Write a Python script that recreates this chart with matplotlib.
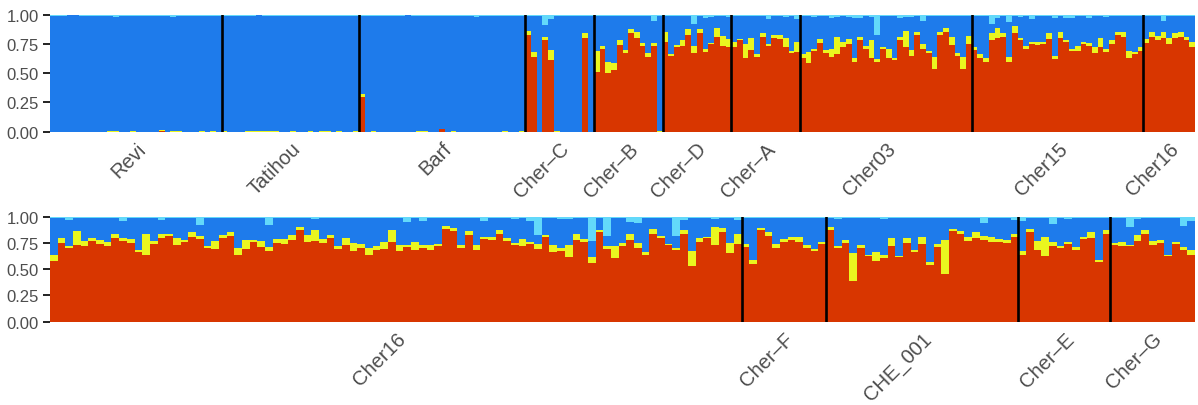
import numpy as np
import matplotlib
matplotlib.use("Agg")
import matplotlib.pyplot as plt

plt.rcParams['font.family'] = ['Liberation Sans', 'DejaVu Sans']

RED = "#d83600"
YELLOW = "#eaf61f"
BLUE = "#1e7beb"
LBLUE = "#63d9fa"

# === Top row ===
top_pops = ["Revi", "Tatihou", "Barf", "Cher\u2013C", "Cher\u2013B", "Cher\u2013D",
            "Cher\u2013A", "Cher03", "Cher15", "Cher16"]
top_sizes = [30, 24, 29, 12, 12, 12, 12, 30, 30, 9]

top_red = [
    # Revi
    0, 0, 0, 0, 0, 0, 0, 0, 0, 0, 0, 0, 0, 0, 0, 0, 0, 0, 0, .01, 0, 0, 0, 0, 0, 0, 0, 0, 0, 0,
    # Tatihou
    0, 0, 0, 0, 0, 0, 0, 0, 0, 0, 0, 0, 0, 0, 0, 0, 0, 0, 0, 0, 0, 0, 0, 0,
    # Barf
    .30, 0, 0, 0, 0, 0, 0, 0, 0, 0, 0, 0, 0, 0, .02, 0, 0, 0, 0, 0, 0, 0, 0, 0, 0, 0, 0, 0, 0,
    # Cher-C
    .83, .64, 0, .78, .61, 0, 0, 0, 0, 0, .80, 0,
    # Cher-B
    .51, .71, .50, .53, .74, .67, .84, .80, .73, .64, .73, 0,
    # Cher-D
    .77, .65, .72, .73, .83, .67, .84, .68, .75, .81, .73, .72,
    # Cher-A
    .72, .78, .63, .70, .64, .81, .73, .80, .79, .72, .67, .68,
    # Cher03
    .63, .59, .69, .76, .67, .64, .66, .72, .75, .60, .78, .71, .63, .60, .71,
    .63, .61, .78, .72, .65, .83, .71, .67, .54, .83, .85, .74, .65, .54, .75,
    # Cher15
    .70, .63, .60, .78, .80, .81, .60, .84, .78, .71, .75, .74, .75, .79, .62,
    .80, .77, .69, .69, .75, .73, .67, .72, .68, .75, .83, .81, .63, .66, .69,
    # Cher16
    .76, .81, .78, .80, .75, .80, .81, .78, .72,
]
top_yellow = [
    # Revi
    0, 0, 0, 0, 0, 0, 0, 0, 0, 0, .01, .01, 0, 0, .01, 0, 0, 0, 0, .005,
    0, .01, .01, 0, 0, 0, .01, 0, .01, 0,
    # Tatihou
    .01, 0, 0, 0, .01, .01, .01, .01, .01, .01, 0, 0, .01, 0, 0, .01, 0, .01, .01, 0, .01, 0, 0, .01,
    # Barf
    .02, 0, .01, 0, 0, 0, 0, 0, 0, 0, .01, .01, 0, 0, 0, 0, .01, 0, 0, 0, 0, 0, 0, 0, 0, .01, 0, 0, .01,
    # Cher-C
    .03, .04, 0, .03, .09, .01, 0, 0, 0, 0, .04, 0,
    # Cher-B
    .18, .02, .10, .06, .04, .03, .04, .05, .03, .03, .03, .01,
    # Cher-D
    .08, .01, .02, .05, .05, .06, .04, .03, .01, .08, .09, .07,
    # Cher-A
    .05, .01, .12, .10, .02, .03, .02, .03, .04, .08, .02, .09,
    # Cher03
    .03, .09, .02, .03, .03, .07, .15, .05, .04, .03, .03, .02, .15, .02, .01,
    .08, .02, .03, .14, .05, .02, .04, .02, .10, .02, .04, .07, .02, .10, .07,
    # Cher15
    .02, .03, .03, .06, .09, .03, .04, .06, .02, .02, .02, .03, .02, .05, .03,
    .05, .01, .02, .04, .02, .03, .05, .08, .03, .03, .02, .04, .06, .02, .03,
    # Cher16
    .03, .04, .04, .05, .05, .04, .04, .03, .05,
]
top_lblue = [
    # Revi
    .01, .01, .01, 0, 0, .01, .01, .01, .01, .01, .01, .02, .01, .01, .01, .01, .01, .01, .01, .01,
    .01, .02, .01, .01, .01, .01, .01, .01, .01, .01,
    # Tatihou
    .01, .01, .01, .01, .01, .01, 0, .01, .01, .01, .01, .01, .01, .01, .01, .01, .01, .01, .01, .01,
    .01, .01, .01, .01,
    # Barf
    .01, .01, .01, .01, .01, .01, .01, .01, 0, .01, .01, .01, .01, .01, .01, .01, .01, .01, .01, .01,
    .02, .01, .01, .01, .01, .01, .01, .01, .01,
    # Cher-C
    .01, .01, .01, .09, .04, .01, .01, .01, .01, .01, .01, .01,
    # Cher-B
    .01, .01, .01, .01, .01, .01, .01, .01, .01, .01, .05, .01,
    # Cher-D
    .01, .01, .01, .01, .01, .08, .01, .03, .02, .01, .01, .02,
    # Cher-A
    .01, .01, .01, .01, .01, .01, .04, .01, .01, .02, .01, .04,
    # Cher03
    .01, .01, .02, .01, .01, .03, .02, .01, .02, .03, .03, .01, .02, .17, .01,
    .01, .01, .03, .02, .02, .01, .05, .01, .01, .01, .01, .01, .01, .01, .01,
    # Cher15
    .01, .01, .01, .08, .03, .01, .06, .01, .02, .01, .04, .01, .01, .01, .03,
    .01, .03, .03, .01, .01, .03, .01, .01, .02, .01, .01, .01, .01, .01, .01,
    # Cher16
    .01, .01, .01, .05, .01, .01, .01, .01, .01,
]

# === Bottom row ===
bot_pops = ["Cher16", "Cher\u2013F", "CHE_001", "Cher\u2013E", "Cher\u2013G"]
bot_sizes = [90, 11, 25, 12, 11]

bot_red = [
    # Cher16
    .58, .75, .70, .73, .72, .77, .74, .72, .80, .77, .75, .66, .64, .74, .80, .82, .73, .76, .81, .79,
    .70, .69, .80, .82, .64, .69, .76, .71, .67, .75, .74, .78, .87, .76, .77, .75, .80, .69, .73, .67,
    .70, .64, .68, .69, .76, .67, .71, .68, .70, .68,
    .72, .88, .86, .70, .83, .68, .79, .78, .84, .77, .73, .72, .74, .69, .81, .66, .67, .62, .78, .76,
    .56, .85, .69, .61, .72, .78, .70, .64, .84, .80, .73, .68, .84, .53, .76, .80, .73, .85, .65, .74,
    # Cher-F
    .71, .55, .87, .82, .70, .76, .78, .76, .70, .67, .74,
    # CHE_001
    .87, .70, .75, .39, .70, .63, .58, .61, .72, .62, .75, .66, .74, .54, .71, .45, .86, .84, .77, .80,
    .78, .76, .76, .75, .81,
    # Cher-E
    .64, .85, .68, .63, .72, .70, .74, .68, .79, .80, .57, .84,
    # Cher-G
    .73, .72, .72, .77, .84, .73, .75, .63, .74, .68, .64,
]
bot_yellow = [
    # Cher16
    .06, .05, .02, .13, .05, .03, .04, .04, .04, .03, .04, .02, .20, .03, .04, .02, .07, .02, .04, .03,
    .02, .08, .03, .03, .06, .09, .02, .06, .04, .04, .05, .05, .03, .07, .10, .04, .03, .03, .07, .08,
    .04, .06, .04, .07, .11, .06, .02, .08, .03, .05,
    .02, .03, .03, .03, .03, .05, .02, .03, .03, .03, .02, .07, .02, .05, .02, .07, .03, .11, .06, .03,
    .06, .02, .03, .11, .03, .06, .05, .02, .04, .02, .01, .02, .03, .14, .04, .01, .17, .04, .10, .10,
    # Cher-F
    .03, .04, .02, .03, .04, .03, .03, .05, .03, .02, .02,
    # CHE_001
    .03, .02, .03, .26, .03, .01, .08, .03, .08, .01, .05, .02, .07, .03, .03, .33, .02, .02, .04, .05,
    .04, .05, .03, .03, .03,
    # Cher-E
    .03, .03, .09, .18, .04, .02, .02, .03, .02, .05, .02, .03,
    # Cher-G
    .02, .04, .01, .06, .03, .04, .03, .01, .02, .03, .04,
]
bot_lblue = [
    # Cher16
    .01, .01, .03, .01, .01, .01, .01, .01, .01, .04, .01, .01, .01, .01, .03, .01, .01, .01, .01, .08,
    .01, .01, .01, .01, .01, .01, .01, .01, .08, .01, .01, .01, .01, .01, .02, .01, .01, .01, .01, .01,
    .01, .01, .01, .01, .01, .01, .05, .01, .04, .01,
    .01, .01, .01, .01, .01, .01, .04, .01, .01, .01, .02, .01, .04, .17, .01, .01, .02, .02, .01, .01,
    .23, .01, .18, .01, .01, .05, .06, .01, .01, .01, .01, .18, .03, .01, .01, .01, .02, .01, .01, .03,
    # Cher-F
    .01, .01, .01, .01, .01, .01, .01, .01, .01, .01, .01,
    # CHE_001
    .01, .02, .01, .01, .01, .01, .01, .02, .01, .01, .01, .01, .01, .01, .01, .01, .01, .01, .01, .01,
    .06, .01, .01, .01, .03,
    # Cher-E
    .04, .01, .01, .01, .07, .01, .02, .01, .01, .01, .01, .01,
    # Cher-G
    .01, .01, .10, .02, .01, .01, .01, .01, .01, .09, .04,
]


def draw_panel(ax, pops, sizes, red, yellow, lblue):
    red = np.array(red, dtype=float)
    yellow = np.array(yellow, dtype=float)
    lblue = np.array(lblue, dtype=float)
    blue = 1 - red - yellow - lblue  # ancestry proportions sum to 1
    x = np.arange(len(red))
    bottom = np.zeros(len(red))
    for vals, col in [(red, RED), (yellow, YELLOW), (blue, BLUE), (lblue, LBLUE)]:
        ax.bar(x, vals, width=1.0, bottom=bottom, color=col, linewidth=0, antialiased=False)
        bottom += vals

    starts = np.cumsum([0] + sizes[:-1])
    for s in starts[1:]:
        ax.axvline(s - 0.5, color="black", lw=1.9)

    centers = starts + np.array(sizes) / 2 - 0.5
    ax.set_xticks(centers)
    ax.set_xticklabels(pops, rotation=45, ha="right", rotation_mode="anchor",
                       fontsize=14.5, color="#4d4d4d")
    ax.tick_params(axis="x", length=0, pad=5)
    ax.set_xlim(-0.5, len(red) - 0.5)
    ax.set_ylim(0, 1)
    ax.set_yticks([0, 0.25, 0.5, 0.75, 1.0])
    ax.set_yticklabels(["0.00", "0.25", "0.50", "0.75", "1.00"], fontsize=12, color="#4d4d4d")
    ax.tick_params(axis="y", length=5, width=1.4, color="#222222", pad=3)
    for sp in ax.spines.values():
        sp.set_visible(False)


fig = plt.figure(figsize=(11.98, 4.06), dpi=100)
ax1 = fig.add_axes([50 / 1198, 1 - 132.7 / 406, 1145 / 1198, 117 / 406])
ax2 = fig.add_axes([50 / 1198, 1 - 322.7 / 406, 1145 / 1198, 105 / 406])

draw_panel(ax1, top_pops, top_sizes, top_red, top_yellow, top_lblue)
draw_panel(ax2, bot_pops, bot_sizes, bot_red, bot_yellow, bot_lblue)

fig.savefig("out.png", dpi=100)
